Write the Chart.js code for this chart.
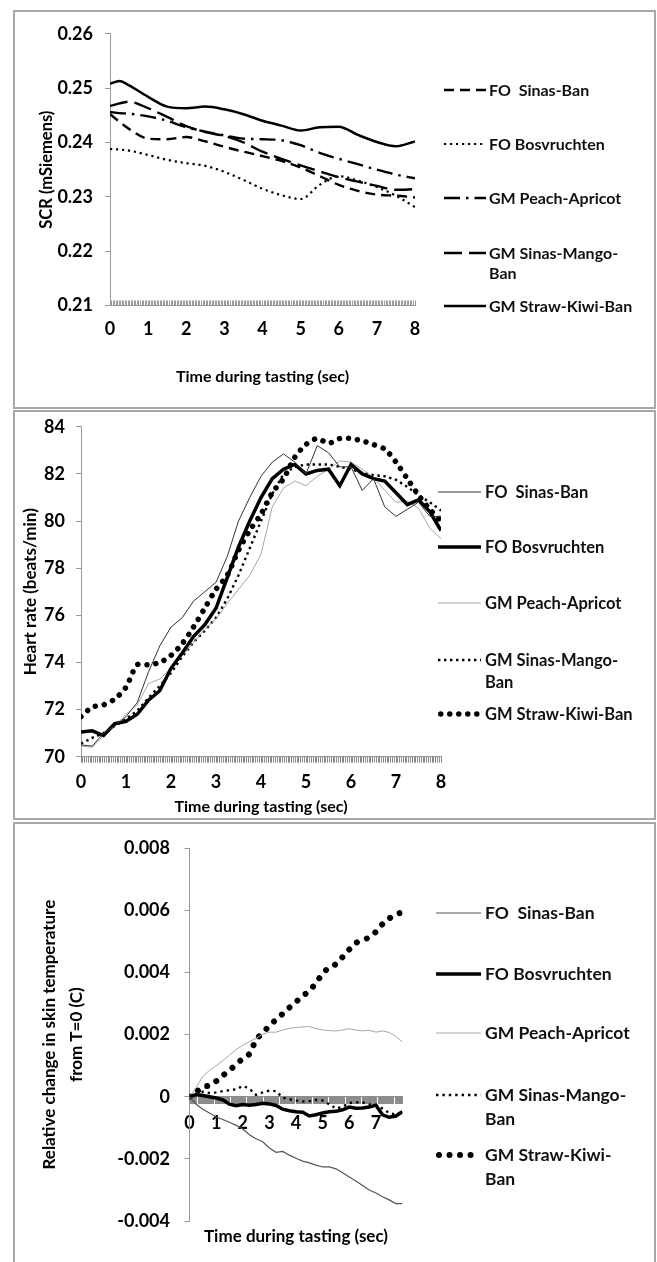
<!DOCTYPE html>
<html>
<head>
<meta charset="utf-8">
<title>SCR, heart rate and skin temperature during tasting</title>
<script src="https://cdn.jsdelivr.net/npm/chart.js@4.4.1/dist/chart.umd.min.js"></script>
<style>
  body { margin: 0; background: #fff; width: 657px; height: 1262px; position: relative; overflow: hidden; font-family: Lato, sans-serif; }
  .frame { position: absolute; left: 13px; width: 639px; border: 2px solid #a8a8a8; }
  canvas { position: absolute; left: 14px; }
  .entry { position: absolute; }
  .entry svg { position: absolute; left: 0; top: 0; }
  .entry span { position: absolute; white-space: pre; font-weight: bold; color: #111; }
</style>
</head>
<body>
<div class="frame" style="top:10px;height:395px"></div>
<div class="frame" style="top:410px;height:406px"></div>
<div class="frame" style="top:822px;height:441px"></div>
<canvas id="scrChart" width="640" height="397" style="top:11px"></canvas>
<canvas id="hrChart" width="640" height="414" style="top:405px"></canvas>
<canvas id="skinChart" width="640" height="439" style="top:823px"></canvas>
<div id="legends"></div>
<script>
// --- Data: skin conductance (top panel) ---
const scrTime = [0, 0.25, 0.5, 1, 1.5, 2, 2.5, 3, 3.5, 4, 4.5, 5, 5.5, 6, 6.5, 7, 7.5, 8];
const scrTickLabels = ['0', '1', '2', '3', '4', '5', '6', '7', '8'];
const scrSinasBan      = [0.2452, 0.2438, 0.2425, 0.2407, 0.2406, 0.2410, 0.2402, 0.2392, 0.2383, 0.2375, 0.2366, 0.2354, 0.2338, 0.2322, 0.2311, 0.2304, 0.2302, 0.2299];
const scrBosvruchten   = [0.2388, 0.2387, 0.2385, 0.2377, 0.2368, 0.2362, 0.2357, 0.2346, 0.2331, 0.2315, 0.2303, 0.2296, 0.2322, 0.2338, 0.2330, 0.2318, 0.2302, 0.2281];
const scrPeachApricot  = [0.2456, 0.2454, 0.2453, 0.2448, 0.2440, 0.2428, 0.2420, 0.2413, 0.2407, 0.2406, 0.2404, 0.2395, 0.2381, 0.2370, 0.2360, 0.2350, 0.2341, 0.2334];
const scrSinasMango    = [0.2467, 0.2472, 0.2475, 0.2463, 0.2447, 0.2430, 0.2419, 0.2412, 0.2400, 0.2383, 0.2370, 0.2358, 0.2347, 0.2336, 0.2328, 0.2320, 0.2313, 0.2314];
const scrStrawKiwi     = [0.2508, 0.2513, 0.2505, 0.2484, 0.2466, 0.2463, 0.2466, 0.2461, 0.2452, 0.2440, 0.2431, 0.2422, 0.2428, 0.2429, 0.2414, 0.2401, 0.2393, 0.2402];
const scrLegend = ['FO  Sinas-Ban', 'FO Bosvruchten', 'GM Peach-Apricot', 'GM Sinas-Mango-\nBan', 'GM Straw-Kiwi-Ban'];

// --- Data: heart rate (middle panel) ---
const hrTime = [0, 0.25, 0.5, 0.75, 1, 1.25, 1.5, 1.75, 2, 2.25, 2.5, 2.75, 3, 3.25, 3.5, 3.75, 4,
                4.25, 4.5, 4.75, 5, 5.25, 5.5, 5.75, 6, 6.25, 6.5, 6.75, 7, 7.25, 7.5, 7.75, 8];
const hrTickLabels = ['0', '1', '2', '3', '4', '5', '6', '7', '8'];
const hrSinasBan     = [70.5, 70.45, 71.0, 71.3, 71.7, 72.3, 73.6, 74.7, 75.5, 75.9, 76.6, 77.0, 77.4, 78.5, 80.0, 81.0, 81.9,
                        82.5, 82.85, 82.5, 82.0, 83.2, 82.9, 82.3, 82.3, 81.3, 81.8, 80.6, 80.2, 80.5, 80.8, 80.2, 80.2];
const hrBosvruchten  = [71.05, 71.1, 70.9, 71.4, 71.5, 71.8, 72.4, 72.8, 73.75, 74.4, 75.1, 75.6, 76.3, 77.6, 78.9, 80.0, 81.0,
                        81.8, 82.2, 82.4, 82.0, 82.15, 82.2, 81.5, 82.4, 82.0, 81.8, 81.7, 81.2, 80.7, 80.9, 80.4, 79.6];
const hrPeachApricot = [70.45, 70.4, 70.9, 71.3, 71.8, 72.2, 73.1, 73.3, 73.75, 74.3, 74.85, 75.4, 75.85, 76.5, 77.1, 77.7, 78.6,
                        80.6, 81.4, 81.7, 81.5, 81.9, 82.2, 82.55, 82.5, 82.2, 81.85, 81.3, 80.8, 80.85, 80.55, 79.7, 79.25];
const hrSinasMango   = [70.55, 70.8, 71.0, 71.3, 71.6, 71.95, 72.5, 73.0, 73.55, 74.25, 74.85, 75.35, 75.9, 76.7, 77.7, 78.85, 80.0,
                        81.15, 82.0, 82.3, 82.4, 82.4, 82.4, 82.3, 82.2, 82.05, 81.95, 81.9, 81.75, 81.45, 81.1, 80.8, 80.45];
const hrStrawKiwi    = [71.7, 72.1, 72.2, 72.45, 72.95, 73.9, 73.9, 74.0, 74.3, 74.8, 75.5, 76.3, 77.1, 77.7, 78.75, 79.6, 80.3,
                        81.2, 81.8, 82.7, 83.25, 83.5, 83.3, 83.5, 83.5, 83.4, 83.25, 83.05, 82.5, 81.8, 81.1, 80.5, 80.0];
const hrLegend = ['FO  Sinas-Ban', 'FO Bosvruchten', 'GM Peach-Apricot', 'GM Sinas-Mango-\nBan', 'GM Straw-Kiwi-Ban'];

// --- Data: skin temperature change (bottom panel) ---
const skinTime = [0, 0.25, 0.5, 0.75, 1, 1.25, 1.5, 1.75, 2, 2.25, 2.5, 2.75, 3, 3.25, 3.5, 3.75, 4,
                  4.25, 4.5, 4.75, 5, 5.25, 5.5, 5.75, 6, 6.25, 6.5, 6.75, 7, 7.25, 7.5, 7.75, 8];
const skinTickLabels = ['0', '1', '2', '3', '4', '5', '6', '7'];
const skinSinasBan     = [0, -0.00024, -0.0004, -0.00052, -0.00065, -0.00073, -0.00082, -0.00092, -0.00104, -0.00122, -0.00135, -0.00145, -0.00165, -0.00179, -0.00176, -0.00188, -0.00198,
                          -0.00207, -0.00213, -0.0022, -0.00226, -0.00226, -0.00232, -0.00245, -0.00258, -0.00271, -0.00286, -0.003, -0.0031, -0.00322, -0.00332, -0.00344, -0.00344];
const skinBosvruchten  = [0, 0.00007, 0.00004, 0, -0.00004, -0.0001, -0.00024, -0.00029, -0.00025, -0.00027, -0.00025, -0.00021, -0.00023, -0.00028, -0.0004, -0.00045, -0.00048,
                          -0.0005, -0.00062, -0.00058, -0.00052, -0.00048, -0.00047, -0.00042, -0.00033, -0.00037, -0.00036, -0.00033, -0.00027, -0.00058, -0.00066, -0.00062, -0.00048];
const skinPeachApricot = [0, 0.0003, 0.00066, 0.00085, 0.001, 0.00116, 0.00134, 0.00152, 0.00166, 0.00178, 0.00188, 0.00202, 0.00208, 0.00208, 0.00215, 0.0022, 0.00223,
                          0.00225, 0.00226, 0.0022, 0.00215, 0.00213, 0.00212, 0.00215, 0.00219, 0.00215, 0.00212, 0.00214, 0.00208, 0.00212, 0.00207, 0.00195, 0.00176];
const skinSinasMango   = [0, 0.0001, 0.00016, 0.00012, 0.00014, 0.00018, 0.00021, 0.00024, 0.00035, 0.00026, 0.00006, 0.00014, 0.0002, 0.00018, -0.00003, -0.00008, -0.00012,
                          -0.00015, -0.00014, -0.0001, -0.00012, -0.00024, -0.00038, -0.00032, -0.0002, -0.00018, -0.00018, -0.00025, -0.00027, -0.00038, -0.00052, -0.00057, -0.00048];
const skinStrawKiwi    = [0, 0.00015, 0.00032, 0.00036, 0.0005, 0.00068, 0.00085, 0.00104, 0.00123, 0.00138, 0.00183, 0.00206, 0.00228, 0.00248, 0.00267, 0.00287, 0.00305,
                          0.00325, 0.0034, 0.00367, 0.00396, 0.00417, 0.00427, 0.0045, 0.00474, 0.00495, 0.00505, 0.00513, 0.00531, 0.00556, 0.00574, 0.00586, 0.00595];
const skinLegend = ['FO  Sinas-Ban', 'FO Bosvruchten', 'GM Peach-Apricot', 'GM Sinas-Mango-\nBan', 'GM Straw-Kiwi-\nBan'];

// --- Line styles ---
const scrStyles = [
    {borderWidth: 2.4, borderDash: [10, 6]},
    {borderWidth: 2.2, borderDash: [2.2, 3.8]},
    {borderWidth: 2.4, borderDash: [16, 6, 2.5, 6]},
    {borderWidth: 2.4, borderDash: [18, 7]},
    {borderWidth: 2.5}
];
const hrStyles = [
    {borderWidth: 1, borderColor: '#333'},
    {borderWidth: 3.5},
    {borderWidth: 1, borderColor: '#a6a6a6'},
    {borderWidth: 2.4, borderDash: [2.4, 3.6]},
    {borderWidth: 5.5, borderDash: [0.01, 9], borderCapStyle: 'round', tension: 0.3}
];
const skinStyles = [
    {borderWidth: 1.2, borderColor: '#555'},
    {borderWidth: 3.5},
    {borderWidth: 1, borderColor: '#a6a6a6'},
    {borderWidth: 2.4, borderDash: [2.4, 4]},
    {borderWidth: 6, borderDash: [0.01, 10.5], borderCapStyle: 'round', tension: 0.3}
];

Chart.defaults.font.family = 'Lato';
Chart.defaults.color = '#000';

const tickFont = {family: 'Lato', weight: 'bold', size: 18};

function intLabel(v, labels){
    let i = Math.round(v);
    return Math.abs(v - i) < 1e-6 && i < labels.length ? labels[i] : '';
}

function makeDatasets(time, series, labels, styles, extra){
    return series.map((values, k) => Object.assign({
        label: labels[k],
        data: time.map((t, i) => ({x: t, y: values[i]})),
        borderColor: '#000',
        borderWidth: 1,
        pointRadius: 0,
        fill: false,
        tension: 0
    }, extra || {}, styles[k]));
}

// --- Top panel: SCR ---
let scrChart = new Chart(document.getElementById('scrChart'), {
    type: 'line',
    data: {
        datasets: makeDatasets(scrTime,
            [scrSinasBan, scrBosvruchten, scrPeachApricot, scrSinasMango, scrStrawKiwi],
            scrLegend, scrStyles, {cubicInterpolationMode: 'monotone'})
    },
    options: {
        responsive: false, animation: false,
        layout: {padding: {top: 18.3, right: 239, bottom: 0, left: 0}},
        plugins: {legend: {display: false}, tooltip: {enabled: false}},
        scales: {
            x: {
                type: 'linear', min: 0, max: 8,
                afterFit: s => { s.height = 102.5; },
                border: {color: '#999'},
                grid: {drawOnChartArea: false, tickLength: -5, color: '#9a9a9a'},
                ticks: {stepSize: 0.04, autoSkip: false, maxRotation: 0, minRotation: 0, padding: 17.7,
                        font: tickFont, callback: v => intLabel(v, scrTickLabels)},
                title: {display: true, text: 'Time during tasting (sec)',
                        font: {family: 'Lato', weight: 'bold', size: 16}, padding: {top: 0, bottom: 21.4}}
            },
            y: {
                min: 0.21, max: 0.26,
                afterFit: s => { s.width = 96; },
                border: {color: '#999'},
                grid: {drawOnChartArea: false, tickLength: 5, color: '#999'},
                ticks: {stepSize: 0.01, padding: 12, font: tickFont, callback: v => v.toFixed(2)},
                title: {display: true, text: 'SCR (mSiemens)',
                        font: {family: 'Lato', weight: 'bold', size: 16.5}, padding: {top: 23, bottom: 0}}
            }
        }
    }
});

// --- Middle panel: heart rate ---
let hrChart = new Chart(document.getElementById('hrChart'), {
    type: 'line',
    data: {
        datasets: makeDatasets(hrTime,
            [hrSinasBan, hrBosvruchten, hrPeachApricot, hrSinasMango, hrStrawKiwi],
            hrLegend, hrStyles)
    },
    options: {
        responsive: false, animation: false,
        layout: {padding: {top: 15.7, right: 213, bottom: 0, left: 0}},
        plugins: {legend: {display: false}, tooltip: {enabled: false}},
        scales: {
            x: {
                type: 'linear', min: 0, max: 8,
                afterFit: s => { s.height = 62.3; },
                border: {color: '#999'},
                grid: {drawOnChartArea: false, tickLength: 6, color: '#8a8a8a'},
                ticks: {stepSize: 0.04, autoSkip: false, maxRotation: 0, minRotation: 0, padding: 8.5,
                        font: tickFont, callback: v => intLabel(v, hrTickLabels)},
                title: {display: true, text: 'Time during tasting (sec)',
                        font: {family: 'Lato', weight: 'bold', size: 16}, padding: {top: 0, bottom: 2.4}}
            },
            y: {
                min: 70, max: 84,
                afterFit: s => { s.width = 67; },
                border: {color: '#999'},
                grid: {drawOnChartArea: false, tickLength: 5, color: '#999'},
                ticks: {stepSize: 2, padding: 11, font: tickFont},
                title: {display: true, text: 'Heart rate (beats/min)',
                        font: {family: 'Lato', weight: 'bold', size: 17}, padding: {top: 6.2, bottom: 0}}
            }
        }
    }
});

// --- Bottom panel: skin temperature ---
let skinChart = new Chart(document.getElementById('skinChart'), {
    type: 'line',
    data: {
        datasets: makeDatasets(skinTime,
            [skinSinasBan, skinBosvruchten, skinPeachApricot, skinSinasMango, skinStrawKiwi],
            skinLegend, skinStyles)
    },
    options: {
        responsive: false, animation: false,
        layout: {padding: {top: 20.7, right: 251.5, bottom: 0, left: 0}},
        plugins: {legend: {display: false}, tooltip: {enabled: false}},
        scales: {
            x: {
                type: 'linear', min: 0, max: 8, position: {y: 0},
                border: {color: '#8c8c8c'},
                grid: {drawOnChartArea: false, tickLength: 7, color: '#8c8c8c'},
                ticks: {stepSize: 0.04, autoSkip: false, maxRotation: 0, minRotation: 0, padding: 8.9,
                        font: tickFont, callback: v => intLabel(v, skinTickLabels)}
            },
            xt: {
                type: 'linear', position: 'bottom', display: true, min: 0, max: 8,
                afterFit: s => { s.height = 41; },
                grid: {display: false}, border: {display: false}, ticks: {display: false},
                title: {display: true, text: 'Time during tasting (sec)',
                        font: {family: 'Lato', weight: 'bold', size: 17}, padding: {top: 0, bottom: 14.8}}
            },
            y: {
                min: -0.004, max: 0.008,
                afterFit: s => { s.width = 175.5; },
                border: {color: '#999'},
                grid: {drawOnChartArea: false, tickLength: 5, color: '#999'},
                ticks: {stepSize: 0.002, padding: 14.5, font: tickFont,
                        callback: v => Math.abs(v) < 1e-9 ? '0' : v.toFixed(3)},
                title: {display: true, text: ['Relative change in skin temperature', 'from T=0 (C)'],
                        font: {family: 'Lato', weight: 'bold', size: 17, lineHeight: 1.6}, padding: {top: 21.7, bottom: 0}}
            }
        }
    }
});

// --- HTML legends built from the datasets ---
function buildLegend(chart, box){
    let holder = document.getElementById('legends');
    chart.data.datasets.forEach((ds, i) => {
        let entry = document.createElement('div');
        entry.className = 'entry';
        entry.style.left = box.sampleLeft + 'px';
        entry.style.top = (box.rows[i] - box.lineHeight / 2) + 'px';

        let w = box.sampleRight - box.sampleLeft;
        let mid = box.lineHeight / 2;
        let cap = ds.borderCapStyle || 'butt';
        let dash = ds.borderDash ? ds.borderDash.join(' ') : 'none';
        let x0 = cap === 'round' ? ds.borderWidth / 2 : 0;
        entry.innerHTML =
            `<svg width="${w}" height="${box.lineHeight}">
                <line x1="${x0}" y1="${mid}" x2="${w}" y2="${mid}" stroke="${ds.borderColor}"
                      stroke-width="${ds.borderWidth}" stroke-dasharray="${dash}" stroke-linecap="${cap}"/>
             </svg>
             <span style="left:${box.textLeft - box.sampleLeft}px;font-size:${box.fontSize}px;line-height:${box.lineHeight}px">${ds.label}</span>`;
        holder.appendChild(entry);
    });
}

buildLegend(scrChart,  {sampleLeft: 444, sampleRight: 486, textLeft: 489, fontSize: 16, lineHeight: 20, rows: [90, 144, 198, 253, 306]});
buildLegend(hrChart,   {sampleLeft: 438, sampleRight: 481, textLeft: 485, fontSize: 16.5, lineHeight: 22, rows: [492, 547, 603, 660, 714]});
buildLegend(skinChart, {sampleLeft: 436, sampleRight: 481, textLeft: 485, fontSize: 17.5, lineHeight: 24, rows: [913, 974, 1033, 1095, 1155]});
</script>
</body>
</html>
